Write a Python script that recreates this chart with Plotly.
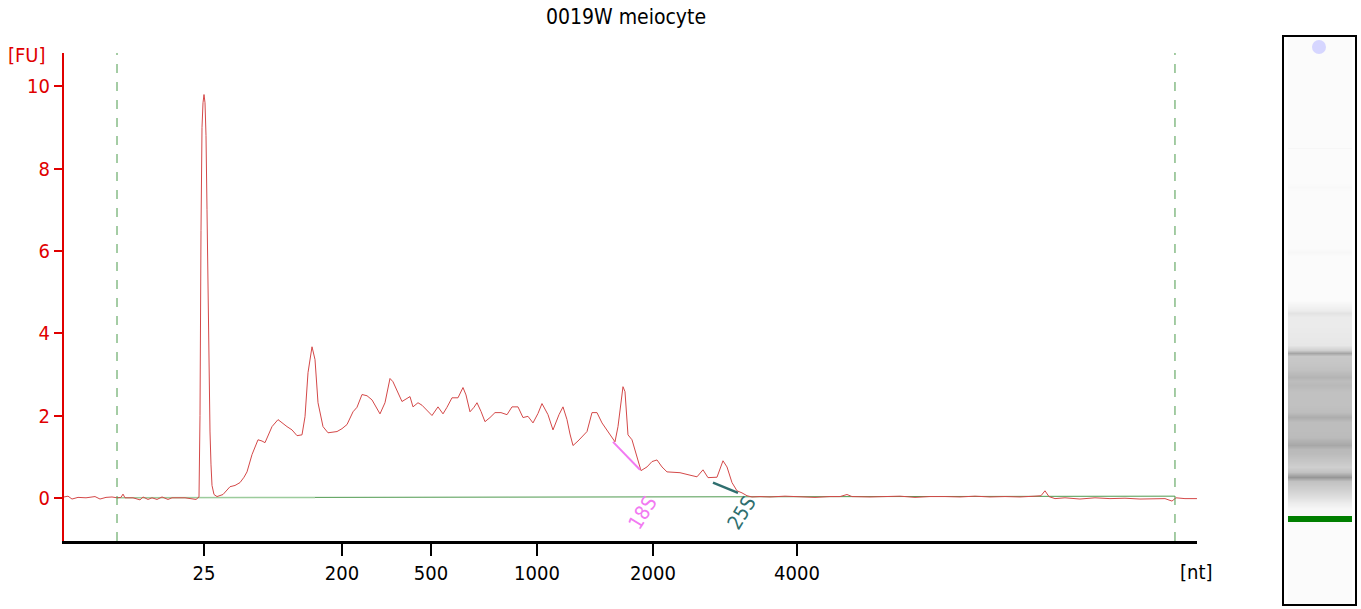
import plotly.graph_objs as go

# electropherogram trace (migration position, fluorescence units)
mig = [64, 68, 72, 78, 86, 95, 100, 106, 112, 117, 121, 123, 125, 133, 140, 143, 148, 152, 157, 162,
       168, 172, 185, 196, 199, 200, 201, 202, 203, 204, 205, 206, 207, 208, 209, 210, 211, 212, 214, 217,
       223, 230, 235, 240, 244, 247, 252, 258, 262, 265, 272, 278, 287, 292, 297, 302, 305, 308, 312, 315,
       318, 323, 328, 337, 342, 347, 353, 357, 362, 367, 372, 377, 380, 385, 390, 393, 398, 402, 406, 410,
       413, 418, 422, 427, 432, 438, 443, 447, 452, 458, 463, 466, 470, 474, 477, 481, 485, 490, 495, 501,
       507, 512, 518, 523, 528, 533, 538, 542, 548, 553, 556, 559, 563, 567, 570, 573, 578, 582, 587, 592,
       597, 602, 607, 612, 615, 618, 621, 623, 625, 628, 632, 635, 638, 641, 647, 652, 657, 662, 667, 674,
       680, 690, 697, 703, 708, 717, 720, 723, 727, 732, 737, 742, 747, 752, 760, 770, 785, 800, 815, 830,
       840, 847, 852, 870, 885, 900, 915, 930, 945, 960, 975, 990, 1005, 1020, 1035, 1041, 1045, 1049, 1055, 1065,
       1080, 1095, 1110, 1125, 1140, 1155, 1165, 1172, 1176, 1185, 1197]
fu = [0.02, 0.04, -0.03, 0.01, 0.0, 0.03, -0.03, 0.01, 0.02, 0.0, 0.01, 0.09, 0.0, 0.0, -0.05, 0.02, -0.04, 0.0, -0.04, 0.02,
      -0.04, 0.0, 0.0, -0.04, 0.02, 2.0, 6.5, 9.0, 9.6, 9.8, 9.6, 8.8, 7.0, 5.0, 3.0, 1.6, 0.8, 0.3, 0.08, 0.03,
      0.08, 0.27, 0.3, 0.37, 0.5, 0.63, 1.05, 1.41, 1.38, 1.34, 1.73, 1.9, 1.73, 1.65, 1.51, 1.53, 1.97, 3.04, 3.67, 3.36,
      2.31, 1.73, 1.58, 1.61, 1.68, 1.78, 2.09, 2.2, 2.51, 2.48, 2.38, 2.18, 2.04, 2.31, 2.9, 2.82, 2.55, 2.34, 2.4, 2.46,
      2.21, 2.31, 2.25, 2.12, 2.0, 2.21, 2.04, 2.2, 2.43, 2.43, 2.68, 2.5, 2.09, 2.2, 2.31, 2.1, 1.85, 1.95, 2.07, 2.07,
      2.02, 2.21, 2.21, 1.95, 1.98, 1.82, 2.05, 2.29, 2.02, 1.65, 1.85, 2.02, 2.21, 1.9, 1.55, 1.27, 1.38, 1.48, 1.61, 2.07,
      2.07, 1.82, 1.65, 1.46, 1.36, 1.73, 2.3, 2.7, 2.58, 1.53, 1.41, 1.17, 0.9, 0.66, 0.75, 0.88, 0.92, 0.75, 0.63, 0.62,
      0.61, 0.55, 0.51, 0.68, 0.49, 0.5, 0.7, 0.9, 0.75, 0.37, 0.17, 0.12, 0.05, 0.02, 0.03, 0.02, 0.04, 0.03, 0.01, 0.03,
      0.03, 0.08, 0.03, 0.02, 0.03, 0.04, 0.01, 0.03, 0.03, 0.02, 0.04, 0.02, 0.03, 0.02, 0.04, 0.05, 0.17, 0.03, -0.02, 0.0,
      -0.03, 0.0, -0.02, -0.01, -0.03, -0.02, -0.02, -0.08, 0.0, -0.02, -0.02]

# baseline between the lower and upper markers
base_x = [117, 315, 1175]
base_y = [0.0, 0.01, 0.04]

# ladder ticks
tick_pos = [204, 342, 431, 537, 653, 797]
tick_lab = ["25", "200", "500", "1000", "2000", "4000"]
marker_pos = [117, 1175]

# ribosomal peaks: baseline segments and label positions
s18_x = [613, 640]
s18_y = [1.36, 0.68]
s25_x = [713, 738]
s25_y = [0.37, 0.12]
rrna_tick = [627, 725]
rrna_lab = ["18S", "25S"]
rrna_lab_x = [642, 741]
rrna_col = ["#f27af2", "#2f6f6f"]

# gel lane: position from top of lane, band intensity
gel_pos = [3, 110, 111, 112, 146, 150, 154, 211, 215, 219, 263, 273, 276, 280, 288, 308, 313, 316, 319, 326,
           333, 340, 344, 348, 355, 368, 375, 380, 385, 393, 400, 408, 412, 416, 423, 430, 435, 440, 444, 453,
           460, 466, 473, 493, 564]
gel_int = [4, 4, 9, 4, 4, 7, 4, 4, 8, 4, 4, 18, 28, 20, 20, 24, 48, 90, 55, 57,
           62, 75, 66, 70, 62, 62, 66, 82, 66, 66, 68, 88, 70, 68, 58, 48, 62, 105, 62, 46,
           32, 18, 6, 4, 4]
gel_marker = 482
gel_dot = 10

red = "#e00000"
fnt = "DejaVu Sans Condensed"

fig = go.Figure()

fig.add_trace(go.Scatter(x=base_x[:2], y=base_y[:2], mode="lines",
                         line=dict(color="#9ccc9c", width=1.5), hoverinfo="skip"))
fig.add_trace(go.Scatter(x=base_x[1:], y=base_y[1:], mode="lines",
                         line=dict(color="#4f9a4f", width=1), hoverinfo="skip"))
fig.add_trace(go.Scatter(x=mig, y=fu, mode="lines", line=dict(color="#d44848", width=1)))
fig.add_trace(go.Scatter(x=s18_x, y=s18_y, mode="lines", line=dict(color=rrna_col[0], width=2)))
fig.add_trace(go.Scatter(x=s25_x, y=s25_y, mode="lines", line=dict(color=rrna_col[1], width=2.5)))

# gel lane
fig.add_trace(go.Heatmap(x=[4, 36, 68], y=gel_pos, z=[[v, v] for v in gel_int],
                         colorscale=[[0, "white"], [1, "black"]], zmin=0, zmax=255,
                         zsmooth="best", showscale=False, xaxis="x2", yaxis="y2", hoverinfo="skip"))
fig.add_trace(go.Scatter(x=[4, 68], y=[gel_marker, gel_marker], mode="lines",
                         line=dict(color="#007f00", width=6), xaxis="x2", yaxis="y2"))
fig.add_trace(go.Scatter(x=[35], y=[gel_dot], mode="markers",
                         marker=dict(color="#d6d6ff", size=14, symbol="circle"), xaxis="x2", yaxis="y2"))

for m in marker_pos:
    fig.add_shape(type="line", xref="x", yref="y domain", x0=m, x1=m, y0=0, y1=1,
                  line=dict(color="#4a9a4a", width=1, dash="dash"))

for lab, lx, col in zip(rrna_lab, rrna_lab_x, rrna_col):
    fig.add_annotation(x=lx, y=-0.36, text=lab, showarrow=False, textangle=-58,
                       font=dict(family=fnt, size=20, color=col))

fig.add_annotation(text="[FU]", xref="x domain", yref="y domain", x=0, y=1, xanchor="right",
                   yanchor="middle", xshift=-16, yshift=-2, showarrow=False,
                   font=dict(family=fnt, size=20, color=red))
fig.add_annotation(text="[nt]", xref="x domain", yref="y domain", x=1, y=0, xanchor="center",
                   yanchor="middle", yshift=-31, showarrow=False,
                   font=dict(family=fnt, size=20, color="black"))

fig.update_layout(
    width=1361, height=609,
    margin=dict(l=64, r=6, t=37, b=5),
    paper_bgcolor="white", plot_bgcolor="white",
    showlegend=False,
    title=dict(text="0019W meiocyte", x=0.4353, xref="paper", y=1 - 17 / 609, yref="container",
               xanchor="center", yanchor="middle", font=dict(family=fnt, size=21, color="black")),
    xaxis=dict(domain=[0, 0.8776], range=[64, 1197], showgrid=False, zeroline=False,
               showline=True, linecolor="black", linewidth=3,
               tickvals=tick_pos, ticktext=tick_lab, ticks="outside", ticklen=12, tickwidth=2,
               tickcolor="black", tickfont=dict(family=fnt, size=20, color="black")),
    xaxis3=dict(overlaying="x", anchor="y", range=[64, 1197], showgrid=False, zeroline=False,
                showline=False, tickvals=rrna_tick, ticks="inside", ticklen=10, tickwidth=2,
                tickcolor="black", showticklabels=False),
    yaxis=dict(domain=[0.1111, 0.9718], range=[-1.05, 10.81], showgrid=False, zeroline=False,
               showline=True, linecolor=red, linewidth=2,
               tickvals=[0, 2, 4, 6, 8, 10], ticks="outside", ticklen=8, tickwidth=2, tickcolor=red,
               tickfont=dict(family=fnt, size=20, color=red)),
    xaxis2=dict(domain=[0.945, 1.0], range=[0, 71], anchor="y2", showgrid=False, zeroline=False,
                showline=True, mirror=True, linecolor="black", linewidth=1.5,
                showticklabels=False, ticks=""),
    yaxis2=dict(domain=[0, 1], range=[567, 0], anchor="x2", showgrid=False, zeroline=False,
                showline=True, mirror=True, linecolor="black", linewidth=1.5,
                showticklabels=False, ticks=""),
)

fig.write_html("out.html", config={"displayModeBar": False},
               post_script="document.body.style.margin='0px';")
